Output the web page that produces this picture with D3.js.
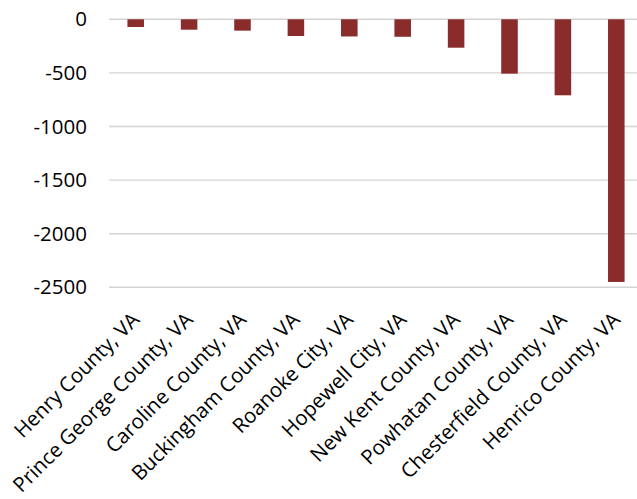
<!DOCTYPE html>
<html>
<head>
<meta charset="utf-8">
<script src="https://cdn.jsdelivr.net/npm/d3@7"></script>
<style>
  body { margin: 0; background: #fff; }
  svg text { font-family: "Open Sans", sans-serif; fill: #000; }
</style>
</head>
<body>
<div id="chart"></div>
<script>
// counties and their values
var counties = ["Henry County, VA", "Prince George County, VA", "Caroline County, VA",
    "Buckingham County, VA", "Roanoke City, VA", "Hopewell City, VA", "New Kent County, VA",
    "Powhatan County, VA", "Chesterfield County, VA", "Henrico County, VA"];
var values = [-72, -97, -106, -156, -160, -163, -265, -507, -709, -2450];
var yTicks = [0, -500, -1000, -1500, -2000, -2500];

var width = 637, height = 499;

var svg = d3.select("#chart")
    .append("svg")
    .attr("width", width)
    .attr("height", height);

// scales
var x = d3.scaleBand()
    .domain(counties)
    .range([109, 643])
    .padding(0);

var y = d3.scaleLinear()
    .domain([-2500, 0])
    .range([287.3, 19.3]);

// gridlines
svg.selectAll(".grid")
    .data(yTicks)
    .enter()
    .append("line")
    .attr("x1", 109)
    .attr("x2", width)
    .attr("y1", function(d) { return y(d); })
    .attr("y2", function(d) { return y(d); })
    .attr("stroke", "#d4d4d4")
    .attr("stroke-width", 1.4);

// y axis labels
var yAxis = d3.axisLeft(y)
    .tickValues(yTicks)
    .tickSize(0)
    .tickPadding(0)
    .tickFormat(function(d) { return d3.format("d")(d).replace("\u2212", "-"); });

var gy = svg.append("g")
    .attr("transform", "translate(87,0)")
    .call(yAxis);
gy.select(".domain").remove();
gy.selectAll("text")
    .style("font-size", "20.5px");

// bars
var barW = x.bandwidth() * 0.31;
svg.selectAll(".bar")
    .data(values)
    .enter()
    .append("rect")
    .attr("x", function(d, i) { return x(counties[i]) + x.bandwidth() / 2 - barW / 2; })
    .attr("y", y(0))
    .attr("width", barW)
    .attr("height", function(d) { return y(d) - y(0); })
    .attr("fill", "#8b2c2c");

// rotated category labels
svg.selectAll(".xlab")
    .data(counties)
    .enter()
    .append("text")
    .attr("transform", function(d) {
        return "translate(" + (x(d) + x.bandwidth() / 2 + 5) + ",321) rotate(-45)";
    })
    .style("text-anchor", "end")
    .style("font-size", "20.5px")
    .text(function(d) { return d; });
</script>
</body>
</html>
